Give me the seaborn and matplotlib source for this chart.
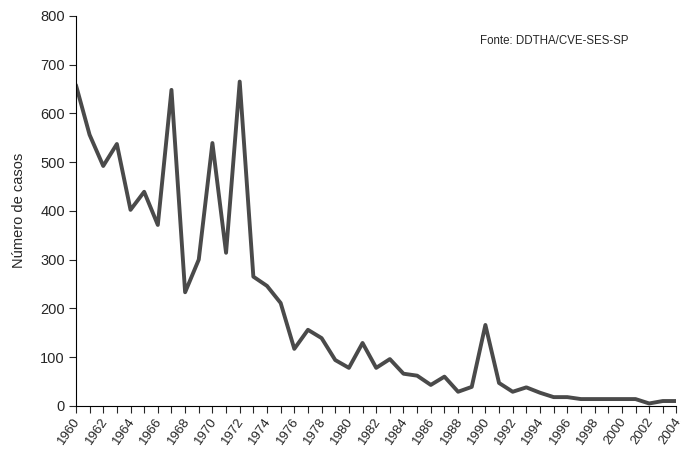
import pandas as pd
import matplotlib.pyplot as plt
import matplotlib.transforms as mtransforms
import seaborn as sns

anos = list(range(1960, 2005))
casos = [658, 556, 492, 537, 402, 439, 371, 648, 233, 300,
         539, 314, 665, 265, 246, 211, 117, 156, 139, 94,
         78, 129, 78, 96, 66, 62, 43, 60, 29, 39,
         166, 47, 29, 38, 27, 18, 18, 14, 14, 14,
         14, 14, 5, 10, 10]
rotulos = [str(a) for a in range(1960, 2005, 2)]

df = pd.DataFrame({'ano': anos, 'casos': casos})

sns.set_style('white')
plt.rcParams['font.family'] = ['Liberation Sans', 'DejaVu Sans']

fig = plt.figure(figsize=(6.84, 4.5), dpi=100)
ax = fig.add_axes([0.111, 0.098, 0.878, 0.867])
sns.lineplot(data=df, x='ano', y='casos', ax=ax, color='#4a4a4a', linewidth=2.8)

ax.set_xlim(1960, 2004)
ax.set_ylim(0, 800)
ax.set_xticks(range(1960, 2005, 2))
ax.set_xticklabels(rotulos, rotation=55, ha='right', rotation_mode='anchor', fontsize=9.5)
ax.set_xticks(range(1960, 2005), minor=True)
ax.set_yticks(range(0, 801, 100))
ax.tick_params(axis='y', labelsize=10.5, length=5, width=0.8, direction='out', left=True, pad=3)
ax.tick_params(axis='x', which='both', length=5, width=0.8, direction='out', bottom=True, pad=2)
ax.set_xlabel('')
ax.set_ylabel('Número de casos', fontsize=10.5, labelpad=10)
sns.despine(ax=ax)
for s in ['left', 'bottom']:
    ax.spines[s].set_color('black')
    ax.spines[s].set_linewidth(0.8)

# nudge rotated year labels a bit left so the last one stays inside
desloc = mtransforms.ScaledTranslation(-3 / 100, 0, fig.dpi_scale_trans)
for lbl in ax.get_xticklabels():
    lbl.set_transform(lbl.get_transform() + desloc)

ax.text(0.92, 0.935, 'Fonte: DDTHA/CVE-SES-SP', transform=ax.transAxes,
        ha='right', va='center', fontsize=8.3)

plt.savefig('out.png', dpi=100)
